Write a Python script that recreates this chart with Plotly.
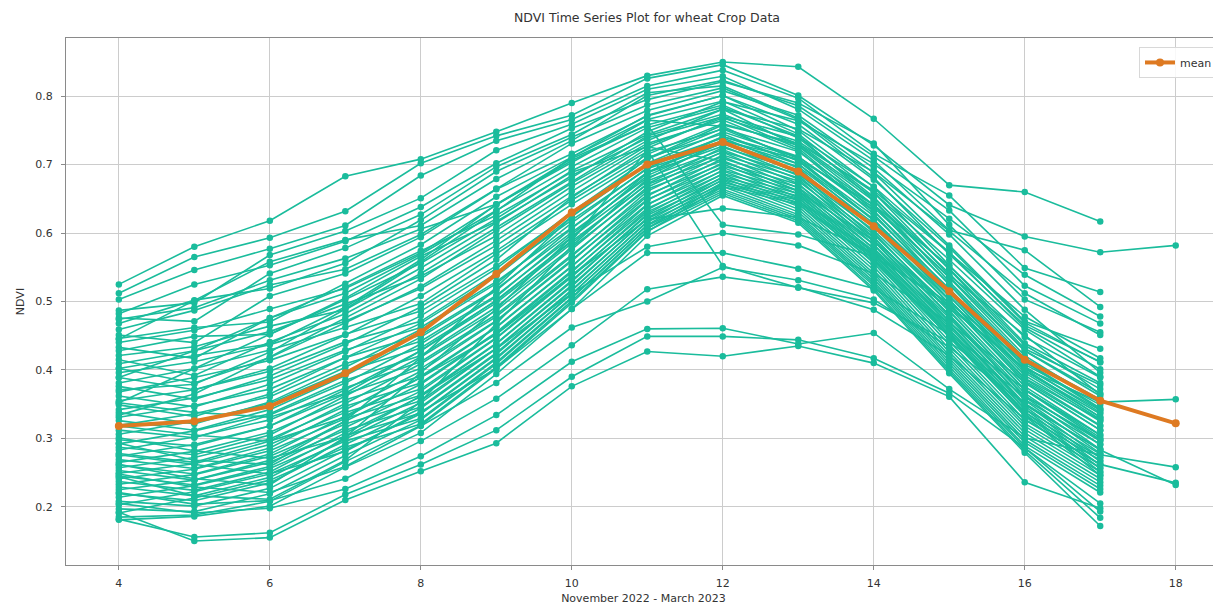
import plotly.graph_objects as go

# ---------------- data ----------------
weeks = [4, 5, 6, 7, 8, 9, 10, 11, 12, 13, 14, 15, 16, 17, 18]
x_ticks = [4, 6, 8, 10, 12, 14, 16, 18]
y_ticks = [0.2, 0.3, 0.4, 0.5, 0.6, 0.7, 0.8]

mean_ndvi = [0.318, 0.325, 0.347, 0.395, 0.455, 0.540, 0.630, 0.700, 0.733,
             0.690, 0.610, 0.515, 0.415, 0.355, 0.322]

high_fields = [
    [0.525, 0.580, 0.618, 0.683, 0.708, 0.748, 0.790, 0.830, 0.850, 0.843, 0.767, 0.670, 0.660, 0.617],
    [0.512, 0.565, 0.593, 0.632, 0.702, 0.742, 0.772, 0.826, 0.846, 0.801, 0.728, 0.641, 0.595, 0.572, 0.582],
    [0.503, 0.546, 0.577, 0.611, 0.684, 0.735, 0.766, 0.815, 0.838, 0.797, 0.716, 0.655, 0.549, 0.514],
    [0.487, 0.498, 0.568, 0.603, 0.651, 0.721, 0.759, 0.810, 0.829, 0.781, 0.706, 0.604, 0.575, 0.492],
    [0.482, 0.525, 0.553, 0.588, 0.638, 0.702, 0.753, 0.795, 0.821, 0.790, 0.731, 0.612, 0.503, 0.455],
    [0.476, 0.471, 0.541, 0.578, 0.627, 0.697, 0.744, 0.805, 0.815, 0.768, 0.688, 0.582, 0.471, 0.431],
    [0.468, 0.502, 0.519, 0.556, 0.619, 0.690, 0.740, 0.787, 0.812, 0.766, 0.681, 0.569, 0.465, 0.412],
    [0.459, 0.487, 0.524, 0.547, 0.598, 0.665, 0.731, 0.779, 0.808, 0.772, 0.695, 0.598, 0.488, 0.396],
    [0.451, 0.440, 0.508, 0.541, 0.594, 0.664, 0.716, 0.771, 0.801, 0.750, 0.667, 0.553, 0.439, 0.381],
    [0.446, 0.462, 0.470, 0.526, 0.583, 0.653, 0.711, 0.766, 0.793, 0.745, 0.659, 0.547, 0.431, 0.378],
    [0.440, 0.458, 0.489, 0.519, 0.571, 0.641, 0.706, 0.758, 0.787, 0.739, 0.653, 0.538, 0.451, 0.364],
    [0.433, 0.417, 0.476, 0.512, 0.569, 0.633, 0.697, 0.754, 0.784, 0.742, 0.648, 0.529, 0.417, 0.357],
    [0.428, 0.449, 0.452, 0.503, 0.556, 0.621, 0.691, 0.744, 0.781, 0.727, 0.641, 0.524, 0.408, 0.349],
    [0.421, 0.434, 0.464, 0.488, 0.549, 0.615, 0.684, 0.739, 0.770, 0.724, 0.633, 0.516, 0.404, 0.341],
    [0.474, 0.491, 0.531, 0.563, 0.606, 0.642, 0.703, 0.765, 0.756, 0.705, 0.620, 0.508, 0.396, 0.328],
    [0.445, 0.501, 0.558, 0.590, 0.611, 0.679, 0.735, 0.801, 0.823, 0.786, 0.712, 0.633, 0.523, 0.468],
]

mid_fields = [
    [0.415, 0.392, 0.441, 0.482, 0.541, 0.608, 0.676, 0.742, 0.774, 0.730, 0.651, 0.548, 0.436, 0.372],
    [0.409, 0.428, 0.456, 0.497, 0.537, 0.596, 0.668, 0.731, 0.765, 0.721, 0.628, 0.512, 0.399, 0.336],
    [0.402, 0.381, 0.418, 0.469, 0.522, 0.589, 0.661, 0.728, 0.768, 0.734, 0.659, 0.561, 0.459, 0.390],
    [0.396, 0.412, 0.437, 0.471, 0.519, 0.582, 0.654, 0.719, 0.752, 0.709, 0.618, 0.503, 0.388, 0.327],
    [0.389, 0.371, 0.402, 0.451, 0.508, 0.574, 0.648, 0.715, 0.760, 0.728, 0.647, 0.541, 0.428, 0.366],
    [0.381, 0.402, 0.429, 0.462, 0.497, 0.569, 0.642, 0.710, 0.745, 0.701, 0.610, 0.497, 0.384, 0.318],
    [0.376, 0.357, 0.391, 0.438, 0.492, 0.561, 0.652, 0.724, 0.771, 0.741, 0.668, 0.572, 0.462, 0.401],
    [0.368, 0.389, 0.414, 0.452, 0.486, 0.552, 0.629, 0.701, 0.739, 0.695, 0.601, 0.486, 0.371, 0.305],
    [0.362, 0.346, 0.379, 0.427, 0.479, 0.548, 0.631, 0.708, 0.753, 0.719, 0.641, 0.535, 0.421, 0.352],
    [0.355, 0.371, 0.398, 0.441, 0.471, 0.541, 0.619, 0.694, 0.731, 0.688, 0.594, 0.479, 0.362, 0.296],
    [0.349, 0.332, 0.365, 0.418, 0.468, 0.537, 0.624, 0.702, 0.748, 0.712, 0.632, 0.526, 0.413, 0.344],
    [0.342, 0.359, 0.386, 0.429, 0.462, 0.529, 0.608, 0.688, 0.727, 0.684, 0.589, 0.471, 0.357, 0.291],
    [0.338, 0.321, 0.353, 0.404, 0.459, 0.526, 0.615, 0.695, 0.741, 0.706, 0.625, 0.519, 0.405, 0.338],
    [0.331, 0.348, 0.372, 0.418, 0.451, 0.518, 0.601, 0.681, 0.722, 0.679, 0.583, 0.466, 0.349, 0.284],
    [0.326, 0.312, 0.342, 0.392, 0.448, 0.516, 0.607, 0.689, 0.736, 0.701, 0.619, 0.514, 0.399, 0.331],
    [0.319, 0.336, 0.361, 0.409, 0.442, 0.509, 0.594, 0.676, 0.718, 0.672, 0.577, 0.459, 0.343, 0.277],
    [0.312, 0.301, 0.334, 0.381, 0.438, 0.507, 0.598, 0.684, 0.732, 0.697, 0.614, 0.508, 0.392, 0.325],
    [0.306, 0.325, 0.351, 0.398, 0.432, 0.501, 0.588, 0.671, 0.712, 0.666, 0.571, 0.452, 0.338, 0.272],
    [0.389, 0.428, 0.476, 0.521, 0.574, 0.626, 0.689, 0.726, 0.705, 0.662, 0.589, 0.494, 0.402, 0.353, 0.357],
    [0.371, 0.379, 0.426, 0.489, 0.558, 0.632, 0.711, 0.772, 0.801, 0.759, 0.678, 0.579, 0.469, 0.411],
    [0.352, 0.402, 0.452, 0.505, 0.566, 0.617, 0.681, 0.748, 0.792, 0.764, 0.701, 0.621, 0.539, 0.478],
    [0.334, 0.365, 0.419, 0.476, 0.533, 0.604, 0.673, 0.735, 0.781, 0.752, 0.689, 0.603, 0.512, 0.451],
]

low_fields = [
    [0.298, 0.289, 0.318, 0.371, 0.428, 0.498, 0.585, 0.672, 0.725, 0.692, 0.609, 0.502, 0.387, 0.319],
    [0.292, 0.311, 0.336, 0.385, 0.421, 0.492, 0.579, 0.664, 0.706, 0.661, 0.566, 0.448, 0.333, 0.268],
    [0.287, 0.276, 0.305, 0.362, 0.419, 0.487, 0.576, 0.667, 0.719, 0.686, 0.604, 0.497, 0.381, 0.312],
    [0.283, 0.302, 0.327, 0.374, 0.412, 0.481, 0.568, 0.656, 0.701, 0.657, 0.561, 0.442, 0.327, 0.262],
    [0.278, 0.265, 0.296, 0.351, 0.409, 0.478, 0.566, 0.661, 0.714, 0.681, 0.598, 0.491, 0.376, 0.305],
    [0.274, 0.291, 0.318, 0.365, 0.402, 0.472, 0.561, 0.649, 0.696, 0.652, 0.556, 0.437, 0.322, 0.257],
    [0.269, 0.256, 0.286, 0.342, 0.398, 0.471, 0.559, 0.654, 0.709, 0.676, 0.593, 0.486, 0.371, 0.298],
    [0.265, 0.281, 0.309, 0.356, 0.391, 0.463, 0.552, 0.642, 0.691, 0.648, 0.551, 0.431, 0.318, 0.251],
    [0.261, 0.248, 0.277, 0.333, 0.389, 0.462, 0.551, 0.648, 0.703, 0.671, 0.588, 0.481, 0.366, 0.291],
    [0.257, 0.272, 0.299, 0.347, 0.381, 0.455, 0.545, 0.636, 0.686, 0.643, 0.546, 0.426, 0.313, 0.246],
    [0.253, 0.239, 0.268, 0.325, 0.379, 0.453, 0.543, 0.641, 0.698, 0.667, 0.583, 0.476, 0.361, 0.284],
    [0.249, 0.263, 0.291, 0.338, 0.372, 0.447, 0.538, 0.631, 0.681, 0.639, 0.541, 0.421, 0.308, 0.241],
    [0.245, 0.232, 0.259, 0.316, 0.369, 0.446, 0.536, 0.634, 0.692, 0.662, 0.578, 0.471, 0.356, 0.278],
    [0.241, 0.255, 0.282, 0.329, 0.363, 0.439, 0.531, 0.626, 0.677, 0.635, 0.537, 0.417, 0.303, 0.236],
    [0.237, 0.224, 0.251, 0.308, 0.361, 0.438, 0.529, 0.628, 0.687, 0.658, 0.574, 0.467, 0.351, 0.272],
    [0.233, 0.247, 0.274, 0.321, 0.355, 0.432, 0.524, 0.621, 0.672, 0.631, 0.533, 0.413, 0.298, 0.231],
    [0.229, 0.216, 0.243, 0.299, 0.352, 0.431, 0.522, 0.622, 0.682, 0.654, 0.571, 0.463, 0.347, 0.266],
    [0.225, 0.239, 0.265, 0.312, 0.346, 0.425, 0.517, 0.616, 0.668, 0.627, 0.529, 0.409, 0.294, 0.226],
    [0.219, 0.209, 0.235, 0.291, 0.344, 0.423, 0.516, 0.617, 0.678, 0.651, 0.568, 0.459, 0.343, 0.261],
    [0.214, 0.231, 0.256, 0.304, 0.337, 0.418, 0.511, 0.611, 0.664, 0.624, 0.526, 0.405, 0.289, 0.221],
    [0.208, 0.201, 0.227, 0.283, 0.336, 0.416, 0.511, 0.612, 0.674, 0.648, 0.565, 0.456, 0.339, 0.256],
    [0.203, 0.222, 0.248, 0.296, 0.329, 0.411, 0.506, 0.607, 0.661, 0.621, 0.523, 0.401, 0.286, 0.193],
    [0.197, 0.193, 0.219, 0.275, 0.327, 0.409, 0.505, 0.607, 0.671, 0.645, 0.562, 0.452, 0.336, 0.251],
    [0.191, 0.213, 0.239, 0.287, 0.321, 0.404, 0.501, 0.603, 0.658, 0.618, 0.519, 0.398, 0.282, 0.184],
    [0.185, 0.188, 0.208, 0.266, 0.319, 0.402, 0.498, 0.602, 0.668, 0.642, 0.559, 0.449, 0.333, 0.246],
    [0.181, 0.186, 0.201, 0.258, 0.308, 0.394, 0.489, 0.596, 0.655, 0.615, 0.516, 0.395, 0.279, 0.172],
    [0.262, 0.241, 0.232, 0.302, 0.396, 0.489, 0.594, 0.688, 0.741, 0.711, 0.637, 0.536, 0.428, 0.362],
    [0.244, 0.216, 0.211, 0.268, 0.354, 0.468, 0.581, 0.679, 0.735, 0.708, 0.641, 0.552, 0.448, 0.389],
    [0.293, 0.268, 0.262, 0.326, 0.418, 0.521, 0.624, 0.709, 0.758, 0.731, 0.662, 0.571, 0.478, 0.417],
]

late_fields = [
    [0.192, 0.150, 0.155, 0.210, 0.252, 0.293, 0.376, 0.427, 0.420, 0.435, 0.410, 0.361, 0.236, 0.198],
    [0.182, 0.156, 0.162, 0.218, 0.262, 0.312, 0.390, 0.449, 0.449, 0.444, 0.417, 0.366, 0.286, 0.205],
    [0.205, 0.191, 0.198, 0.226, 0.274, 0.334, 0.412, 0.460, 0.461, 0.438, 0.454, 0.372, 0.301, 0.276, 0.258],
    [0.221, 0.204, 0.209, 0.241, 0.296, 0.358, 0.436, 0.518, 0.536, 0.521, 0.488, 0.421, 0.328, 0.262, 0.235],
    [0.248, 0.229, 0.221, 0.259, 0.318, 0.381, 0.462, 0.500, 0.550, 0.531, 0.503, 0.433, 0.351, 0.283, 0.232],
    [0.276, 0.262, 0.248, 0.281, 0.339, 0.402, 0.489, 0.571, 0.571, 0.548, 0.519, 0.452, 0.372, 0.301],
    [0.301, 0.282, 0.271, 0.302, 0.362, 0.431, 0.512, 0.580, 0.600, 0.582, 0.541, 0.469, 0.382, 0.312],
    [0.318, 0.305, 0.296, 0.331, 0.389, 0.452, 0.538, 0.620, 0.636, 0.623, 0.571, 0.491, 0.402, 0.331],
    [0.352, 0.338, 0.331, 0.366, 0.428, 0.502, 0.589, 0.721, 0.552, 0.520, 0.498, 0.441, 0.362, 0.298],
    [0.402, 0.421, 0.438, 0.492, 0.561, 0.642, 0.709, 0.758, 0.612, 0.598, 0.566, 0.498, 0.412, 0.342],
]

# ---------------- styling ----------------
TEAL = "#1abc9c"
ORANGE = "#de7a22"
GRID = "#cccccc"
SPINE = "#8a8a8a"

# the page body adds an 8 px offset, so the figure is 8 px smaller
FIG_W, FIG_H = 1213, 599

fig = go.Figure()

for group in (high_fields, mid_fields, low_fields, late_fields):
    for series in group:
        fig.add_trace(go.Scatter(
            x=weeks[:len(series)], y=series,
            mode="lines+markers",
            line=dict(color=TEAL, width=1.6),
            marker=dict(color=TEAL, size=6.5),
            showlegend=False, hoverinfo="skip",
        ))

fig.add_trace(go.Scatter(
    x=weeks, y=mean_ndvi, name="mean",
    mode="lines+markers",
    line=dict(color=ORANGE, width=4),
    marker=dict(color=ORANGE, size=8),
))

fig.update_layout(
    width=FIG_W, height=FIG_H,
    margin=dict(l=58, r=0, t=30, b=42, autoexpand=False),
    paper_bgcolor="white", plot_bgcolor="white",
    font=dict(family="DejaVu Sans", size=11, color="#333333"),
    title=dict(text="NDVI Time Series Plot for wheat Crop Data",
               x=0.503, xanchor="center", xref="paper",
               y=1 - 10 / FIG_H, yanchor="middle",
               font=dict(size=12.5, color="#333333")),
    xaxis=dict(range=[3.3, 18.6], tickvals=x_ticks,
               showgrid=True, gridcolor=GRID, gridwidth=1,
               showline=True, linecolor=SPINE, linewidth=1.2, mirror=True,
               ticks="outside", ticklen=4, tickcolor=SPINE,
               ticklabelstandoff=4, zeroline=False,
               title=dict(text="November 2022 - March 2023", standoff=5,
                          font=dict(size=11))),
    yaxis=dict(range=[0.115, 0.885], tickvals=y_ticks, tickformat=".1f",
               showgrid=True, gridcolor=GRID, gridwidth=1,
               showline=True, linecolor=SPINE, linewidth=1.2, mirror=False,
               ticks="outside", ticklen=4, tickcolor=SPINE,
               ticklabelstandoff=6, zeroline=False,
               title=dict(text="NDVI", standoff=8, font=dict(size=11))),
    legend=dict(x=0.9974, xanchor="right", y=0.983, yanchor="top",
                bgcolor="rgba(255,255,255,0.85)", bordercolor="#d8d8d8",
                borderwidth=1, font=dict(size=11)),
)

fig.write_html("out.html")
